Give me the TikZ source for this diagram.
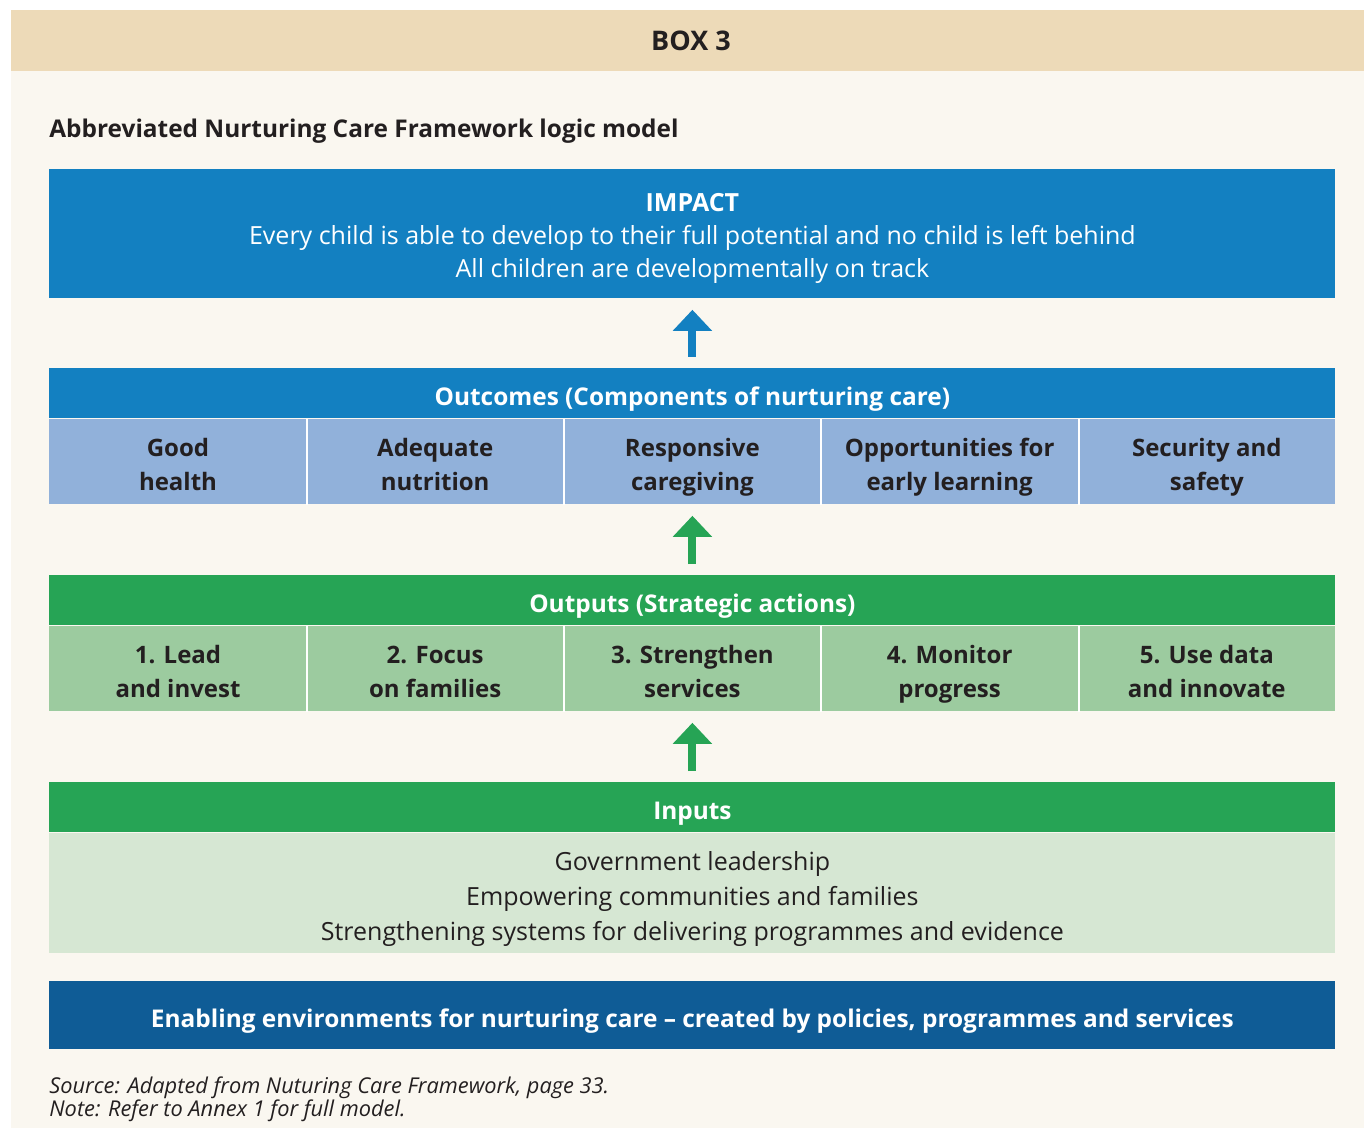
\documentclass[tikz,border=0pt]{standalone}
\usepackage{fontspec}
\setmainfont{Open Sans}
\usetikzlibrary{arrows.meta,positioning}
\definecolor{boxtan}{RGB}{237,218,184}
\definecolor{boxcream}{RGB}{250,247,240}
\definecolor{impactblue}{RGB}{19,128,193}
\definecolor{outcell}{RGB}{145,177,218}
\definecolor{actgreen}{RGB}{38,164,85}
\definecolor{actcell}{RGB}{156,203,159}
\definecolor{inputcell}{RGB}{214,231,211}
\definecolor{enablblue}{RGB}{15,92,150}
\definecolor{inktext}{RGB}{35,31,32}
% line strut, so that every line of a box sits the same way
\newcommand{\lstrut}{\rule[-0.16\baselineskip]{0pt}{\baselineskip}}
\setlength{\lineskiplimit}{-\maxdimen}

\tikzset{
  band/.style={anchor=north west, inner sep=0pt, minimum width=643pt, minimum height=25pt,
    text=white, align=center, font=\bfseries\fontsize{12.2}{15}\selectfont},
  headline/.style={text height=12pt, text depth=0pt},
  cell/.style={anchor=north west, inner sep=0pt, minimum width=128.6pt, minimum height=42.5pt,
    text=inktext, align=center, font=\bfseries\fontsize{12}{17}\selectfont},
  divider/.style={white, line width=1pt},
  uparrow/.style={line width=4pt, -{Triangle[width=19pt,length=10.5pt]}, shorten >=5.5pt, shorten <=5.5pt}
}

\begin{document}
\begin{tikzpicture}[x=0.5pt,y=-0.5pt]
    \useasboundingbox (0,0) rectangle (1364,1128);
    % Background
    \fill[white] (0,0) rectangle (1364,1128);
    \fill[boxcream] (11,71) rectangle (1364,1128);
    \fill[boxtan] (11,10) rectangle (1364,71);
    \node[anchor=base, inner sep=0pt, text=inktext, font=\bfseries\fontsize{13.5}{15}\selectfont] (boxlabel) at (691,51) {BOX 3};
    \node[anchor=base west, inner sep=0pt, text=inktext, font=\bfseries\fontsize{12.2}{15}\selectfont] (title) at (49,138)
        {Abbreviated Nurturing Care Framework logic model};

    % Impact
    \node[band, fill=impactblue, minimum height=64.5pt, font=\fontsize{12.5}{16.5}\selectfont] (impact) at (49,169)
        {\lstrut\textbf{IMPACT}\\\lstrut Every child is able to develop to their full potential and no child is left behind\\\lstrut All children are developmentally on track};

    % Outcomes
    \node[band, headline, fill=impactblue] (outhead) at (49,368) {Outcomes (Components of nurturing care)};
    \foreach \i/\a/\b in {1/Good/health, 2/Adequate/nutrition, 3/Responsive/caregiving,
                          4/Opportunities for/early learning, 5/Security and/safety} {
        \node[cell, fill=outcell] (oc\i) at ({49+(\i-1)*257.2},419) {\lstrut\a\\\lstrut\b};
    }
    \foreach \i in {1,2,3,4}
        \draw[divider] (oc\i.north east) -- (oc\i.south east);

    % Outputs
    \node[band, headline, fill=actgreen] (acthead) at (49,575) {Outputs (Strategic actions)};
    \foreach \i/\a/\b in {1/1. Lead/and invest, 2/2. Focus/on families, 3/3. Strengthen/services,
                          4/4. Monitor/progress, 5/5. Use data/and innovate} {
        \node[cell, fill=actcell] (ac\i) at ({49+(\i-1)*257.2},626) {\lstrut\a\\\lstrut\b};
    }
    \foreach \i in {1,2,3,4}
        \draw[divider] (ac\i.north east) -- (ac\i.south east);

    % Inputs
    \node[band, headline, fill=actgreen] (inhead) at (49,782) {Inputs};
    \node[band, fill=inputcell, text=inktext, minimum height=60pt, font=\fontsize{12.5}{17.5}\selectfont] (inbody) at (49,833)
        {\lstrut Government leadership\\\lstrut Empowering communities and families\\\lstrut Strengthening systems for delivering programmes and evidence};

    % Enabling environments
    \node[band, headline, fill=enablblue, minimum height=34pt] (enabling) at (49,981)
        {Enabling environments for nurturing care -- created by policies, programmes and services};

    % Arrows between levels
    \draw[uparrow, impactblue] (outhead.north) -- (impact.south);
    \draw[uparrow, actgreen] (acthead.north) -- (oc3.south);
    \draw[uparrow, actgreen] (inhead.north) -- (ac3.south);

    % Source note
    \node[anchor=base west, inner sep=0pt, text=inktext, font=\itshape\fontsize{10.9}{12}\selectfont] (source) at (49,1093)
        {Source: Adapted from Nuturing Care Framework, page 33.};
    \node[anchor=base west, inner sep=0pt, text=inktext, font=\itshape\fontsize{10.9}{12}\selectfont] (note) at (49,1116)
        {Note: Refer to Annex 1 for full model.};
\end{tikzpicture}
\end{document}
